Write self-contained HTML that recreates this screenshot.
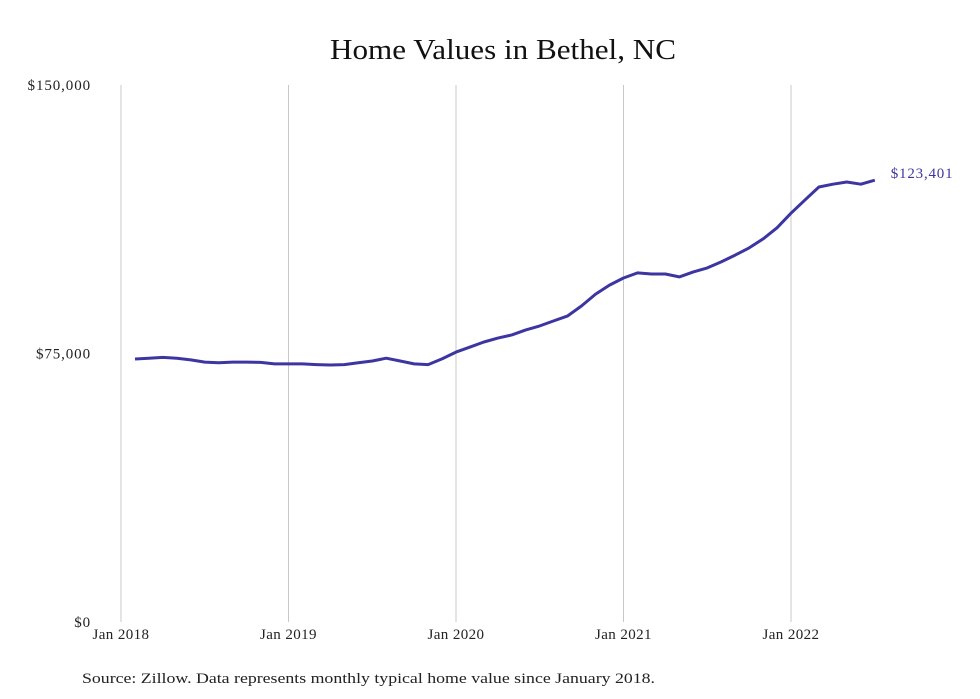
<!DOCTYPE html>
<html><head><meta charset="utf-8"><style>
html,body{margin:0;padding:0;background:#fff;}
svg{display:block;font-family:"Liberation Serif",serif;}
</style></head><body>
<svg width="980" height="699" viewBox="0 0 980 699">
<text x="330" y="59" textLength="346" lengthAdjust="spacingAndGlyphs" font-size="29" fill="#111">Home Values in Bethel, NC</text>
<g id="grid"></g><g id="ylabels"></g><g id="xlabels"></g>
<path id="line" fill="none" stroke="#3d35a0" stroke-width="3" stroke-linejoin="round"/>
<text id="endlabel" font-size="15" letter-spacing="0.8" fill="#3d35a0"></text>
<text x="82" y="683" textLength="573" lengthAdjust="spacingAndGlyphs" font-size="15" fill="#222">Source: Zillow. Data represents monthly typical home value since January 2018.</text>
</svg>
<script>
const yTicks=[0,75000,150000];
const yTickLabels=["$0","$75,000","$150,000"];
const xTickYears=[2018,2019,2020,2021,2022];
const xTickLabels=["Jan 2018","Jan 2019","Jan 2020","Jan 2021","Jan 2022"];
const startMonthIndex=1; // Feb 2018
const values=[73460,73700,73900,73700,73200,72600,72400,72600,72600,72500,72100,
72100,72100,71900,71800,71900,72400,72900,73700,72900,72100,71900,73500,
75400,76800,78200,79300,80200,81600,82700,84100,85500,88300,91600,94100,
96100,97500,97200,97200,96400,97800,98900,100600,102500,104500,107000,110100,
114200,117900,121500,122300,122900,122300,123401];
const ns="http://www.w3.org/2000/svg";
const x0=121,monthPx=(791-121)/48,yTop=85,yBot=622;
function xs(m){return x0+m*monthPx;}
function ys(v){return yBot-(v/150000)*(yBot-yTop);}
const grid=document.getElementById('grid'),yl=document.getElementById('ylabels'),xl=document.getElementById('xlabels');
xTickYears.forEach((yr,i)=>{
 const x=xs((yr-2018)*12);
 const l=document.createElementNS(ns,'line');
 l.setAttribute('x1',x);l.setAttribute('x2',x);l.setAttribute('y1',yTop);l.setAttribute('y2',yBot);
 l.setAttribute('stroke','#c8c8c8');l.setAttribute('stroke-width','1');
 
 
 grid.appendChild(l);
 const t=document.createElementNS(ns,'text');
 t.setAttribute('x',x);t.setAttribute('y',639);t.setAttribute('text-anchor','middle');t.setAttribute('font-size','15');t.setAttribute('letter-spacing','0.4');t.setAttribute('fill','#222');
 t.textContent=xTickLabels[i];
 
 
 xl.appendChild(t);
});
yTicks.forEach((v,i)=>{
 const t=document.createElementNS(ns,'text');
 t.setAttribute('x',91);t.setAttribute('y',ys(v)+5);t.setAttribute('text-anchor','end');t.setAttribute('font-size','15');t.setAttribute('letter-spacing','0.9');t.setAttribute('fill','#222');
 t.textContent=yTickLabels[i];
 
 
 yl.appendChild(t);
});
let d='';
values.forEach((v,i)=>{d+=(i?'L':'M')+xs(startMonthIndex+i).toFixed(1)+','+ys(v).toFixed(1);});
document.getElementById('line').setAttribute('d',d);
const last=values[values.length-1],lx=xs(startMonthIndex+values.length-1);
const el=document.getElementById('endlabel');
el.setAttribute('x',lx+16);el.setAttribute('y',ys(last)-2);
el.textContent='$'+last.toLocaleString('en-US');
</script>
</body></html>
